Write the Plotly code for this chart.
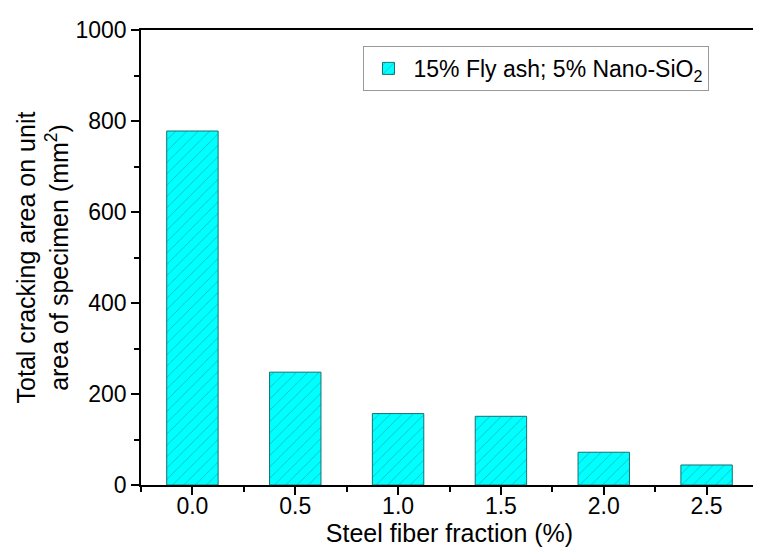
import plotly.graph_objects as go

fraction = [0.0, 0.5, 1.0, 1.5, 2.0, 2.5]
crack_area = [778, 248, 157, 151, 72, 44]
series_name = "15% Fly ash; 5% Nano-SiO<sub>2</sub>"
x_ticks = [0.0, 0.5, 1.0, 1.5, 2.0, 2.5]
x_labels = ["0.0", "0.5", "1.0", "1.5", "2.0", "2.5"]
y_ticks = [0, 200, 400, 600, 800, 1000]

font = "Arial, Liberation Sans, sans-serif"
teal = "#1b7070"

fig = go.Figure(go.Bar(
    x=fraction, y=crack_area, name=series_name, width=0.25,
    marker=dict(color="#00FFFF",
                line=dict(color=teal, width=1),
                pattern=dict(shape="/", fgcolor=teal, bgcolor="#00FFFF",
                             size=8, solidity=0.1)),
    showlegend=True,
))

axis_common = dict(showline=True, linecolor="black", linewidth=1.5, mirror=True,
                   ticks="outside", ticklen=8, tickwidth=1.5, tickcolor="black",
                   showgrid=False, zeroline=False,
                   tickfont=dict(size=23, color="black", family=font))

fig.update_xaxes(range=[-0.25, 2.75], tickvals=x_ticks, ticktext=x_labels,
                 ticklabelstandoff=-8,
                 minor=dict(ticks="outside", ticklen=5, dtick=0.25, tick0=0.25,
                            tickcolor="black", tickwidth=1.5),
                 title=dict(text="Steel fiber fraction (%)", standoff=0,
                            font=dict(size=25, color="black", family=font)),
                 **axis_common)
fig.update_yaxes(range=[0, 1000], tickvals=y_ticks,
                 minor=dict(ticks="outside", ticklen=5, dtick=100,
                            tickcolor="black", tickwidth=1.5),
                 title=dict(text="Total cracking area on unit<br>area of specimen (mm<sup>2</sup>)",
                            standoff=0,
                            font=dict(size=25, color="black", family=font)),
                 **axis_common)

fig.update_layout(
    width=761, height=552,
    margin=dict(l=133, r=9, t=18, b=75),
    paper_bgcolor="white", plot_bgcolor="white",
    font=dict(family=font, color="black"),
    legend=dict(x=0.359, y=0.965, xanchor="left", yanchor="top",
                bordercolor="#999999", borderwidth=1, bgcolor="white",
                font=dict(size=23, color="black", family=font),
                itemwidth=40),
)

fig.write_html("out.html")
